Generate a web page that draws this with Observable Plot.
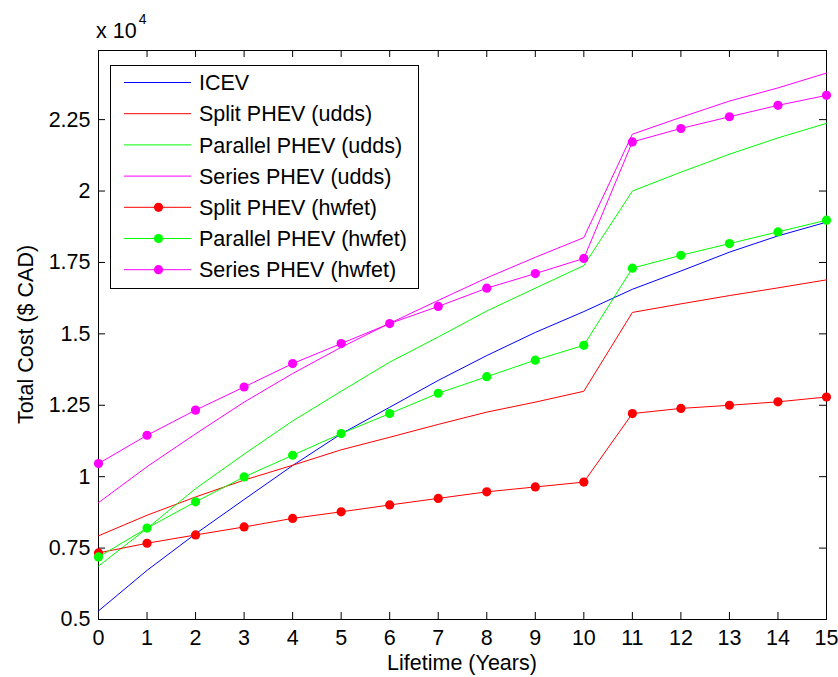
<!DOCTYPE html>
<html>
<head>
<meta charset="utf-8">
<script src="https://cdn.jsdelivr.net/npm/d3@7"></script>
<script src="https://cdn.jsdelivr.net/npm/@observablehq/plot@0.6"></script>
<style>
  html, body { margin: 0; padding: 0; background: #fff; }
</style>
</head>
<body>
<div id="chart"></div>
<script>
// ---- data (Total cost in $ CAD) ----
const years = [0, 1, 2, 3, 4, 5, 6, 7, 8, 9, 10, 11, 12, 13, 14, 15];
const seriesNames = [
  "ICEV",
  "Split PHEV (udds)",
  "Parallel PHEV (udds)",
  "Series PHEV (udds)",
  "Split PHEV (hwfet)",
  "Parallel PHEV (hwfet)",
  "Series PHEV (hwfet)"
];
const seriesColors = ["#0000ff", "#ff0000", "#00ff00", "#ff00ff", "#ff0000", "#00ff00", "#ff00ff"];
const seriesMarkers = [false, false, false, false, true, true, true];

const icev      = [5300, 6720, 8000, 9200, 10390, 11500, 12430, 13370, 14240, 15050, 15780, 16560, 17200, 17860, 18430, 18910];
const splitUdds = [7930, 8650, 9290, 9880, 10400, 10940, 11380, 11830, 12260, 12610, 12990, 15750, 16050, 16340, 16610, 16890];
const parUdds   = [6870, 8190, 9580, 10790, 11950, 12990, 14010, 14890, 15800, 16600, 17390, 20000, 20660, 21290, 21860, 22370];
const serUdds   = [9090, 10350, 11500, 12610, 13610, 14530, 15370, 16170, 16960, 17680, 18370, 21990, 22580, 23150, 23610, 24130];
const splitHw   = [7330, 7670, 7960, 8240, 8540, 8770, 9010, 9240, 9470, 9640, 9810, 12210, 12390, 12500, 12620, 12790];
const parHw     = [7190, 8200, 9120, 9990, 10750, 11510, 12210, 12920, 13500, 14080, 14600, 17300, 17750, 18160, 18570, 18980];
const serHw     = [10460, 11450, 12330, 13140, 13960, 14660, 15360, 15960, 16600, 17110, 17640, 21720, 22190, 22600, 23000, 23350];

const xTicks = years;
const yTicks = [5000, 7500, 10000, 12500, 15000, 17500, 20000, 22500];
const yTickLabels = ["0.5", "0.75", "1", "1.25", "1.5", "1.75", "2", "2.25"];
const xLabel = "Lifetime (Years)";
const yLabel = "Total Cost ($ CAD)";
const exponentLabel = "x 10";
const exponent = "4";

// ---- layout ----
const W = 838, H = 677;
const mL = 98, mR = 12, mT = 50, mB = 58;
const plotW = W - mL - mR, plotH = H - mT - mB;
const tickLen = 7;
const fs = 21.5;
const font = 'Arial, "Liberation Sans", Helvetica, sans-serif';

const seriesValues = [icev, splitUdds, parUdds, serUdds, splitHw, parHw, serHw];

const marks = [
  Plot.frame({stroke: "black", strokeWidth: 1}),
  // inward ticks on all four sides
  Plot.tickX(xTicks, {x: d => d, insetTop: plotH - tickLen, stroke: "black"}),
  Plot.tickX(xTicks, {x: d => d, insetBottom: plotH - tickLen, stroke: "black"}),
  Plot.tickY(yTicks, {y: d => d, insetRight: plotW - tickLen, stroke: "black"}),
  Plot.tickY(yTicks, {y: d => d, insetLeft: plotW - tickLen, stroke: "black"}),
  Plot.axisX(xTicks, {anchor: "bottom", tickSize: 0, tickPadding: 10, label: null, fill: "black",
    fontSize: fs, fontFamily: font}),
  Plot.axisY(yTicks, {anchor: "left", tickSize: 0, tickPadding: 8, label: null, fill: "black",
    fontSize: fs, fontFamily: font,
    tickFormat: d => yTickLabels[yTicks.indexOf(d)]})
];

seriesValues.forEach((vals, i) => {
  const rows = years.map((yr, j) => ({year: yr, cost: vals[j]}));
  marks.push(Plot.line(rows, {x: "year", y: "cost", stroke: seriesColors[i], strokeWidth: 1}));
  if (seriesMarkers[i]) {
    marks.push(Plot.dot(rows, {x: "year", y: "cost", fill: seriesColors[i], r: 4.6}));
  }
});

const plot = Plot.plot({
  width: W,
  height: H,
  marginLeft: mL,
  marginRight: mR,
  marginTop: mT,
  marginBottom: mB,
  x: {domain: [0, 15]},
  y: {domain: [5000, 24920]},
  style: {fontFamily: font, fontSize: fs + "px", background: "white", color: "black", overflow: "visible"},
  marks
});

const svg = d3.select(plot);

// exponent label
const ex = svg.append("text")
  .attr("x", 96).attr("y", 38)
  .attr("text-anchor", "start")
  .attr("font-family", font).attr("font-size", fs).attr("fill", "black")
  .text(exponentLabel);
ex.append("tspan").attr("font-size", 14).attr("dy", -14).attr("dx", 2).text(exponent);

// axis labels
svg.append("text")
  .attr("x", mL + plotW / 2).attr("y", 670)
  .attr("text-anchor", "middle")
  .attr("font-family", font).attr("font-size", fs).attr("fill", "black")
  .text(xLabel);
svg.append("text")
  .attr("transform", `translate(33,${mT + plotH / 2}) rotate(-90)`)
  .attr("text-anchor", "middle")
  .attr("font-family", font).attr("font-size", fs).attr("fill", "black")
  .text(yLabel);

// legend
const lg = svg.append("g").attr("font-family", font).attr("font-size", fs).attr("text-anchor", "start");
lg.append("rect")
  .attr("x", 110.5).attr("y", 65.5).attr("width", 308).attr("height", 223)
  .attr("fill", "white").attr("stroke", "black").attr("stroke-width", 1);
seriesNames.forEach((name, i) => {
  const yy = 82.5 + i * 31.2;
  lg.append("line")
    .attr("x1", 124).attr("x2", 191).attr("y1", yy).attr("y2", yy)
    .attr("stroke", seriesColors[i]).attr("stroke-width", 1);
  if (seriesMarkers[i]) {
    lg.append("circle").attr("cx", 158.5).attr("cy", yy).attr("r", 4.6).attr("fill", seriesColors[i]);
  }
  lg.append("text")
    .attr("x", 199).attr("y", yy).attr("dy", "0.36em")
    .attr("text-anchor", "start")
    .attr("fill", "black")
    .text(name);
});

document.getElementById("chart").appendChild(plot);
</script>
</body>
</html>
